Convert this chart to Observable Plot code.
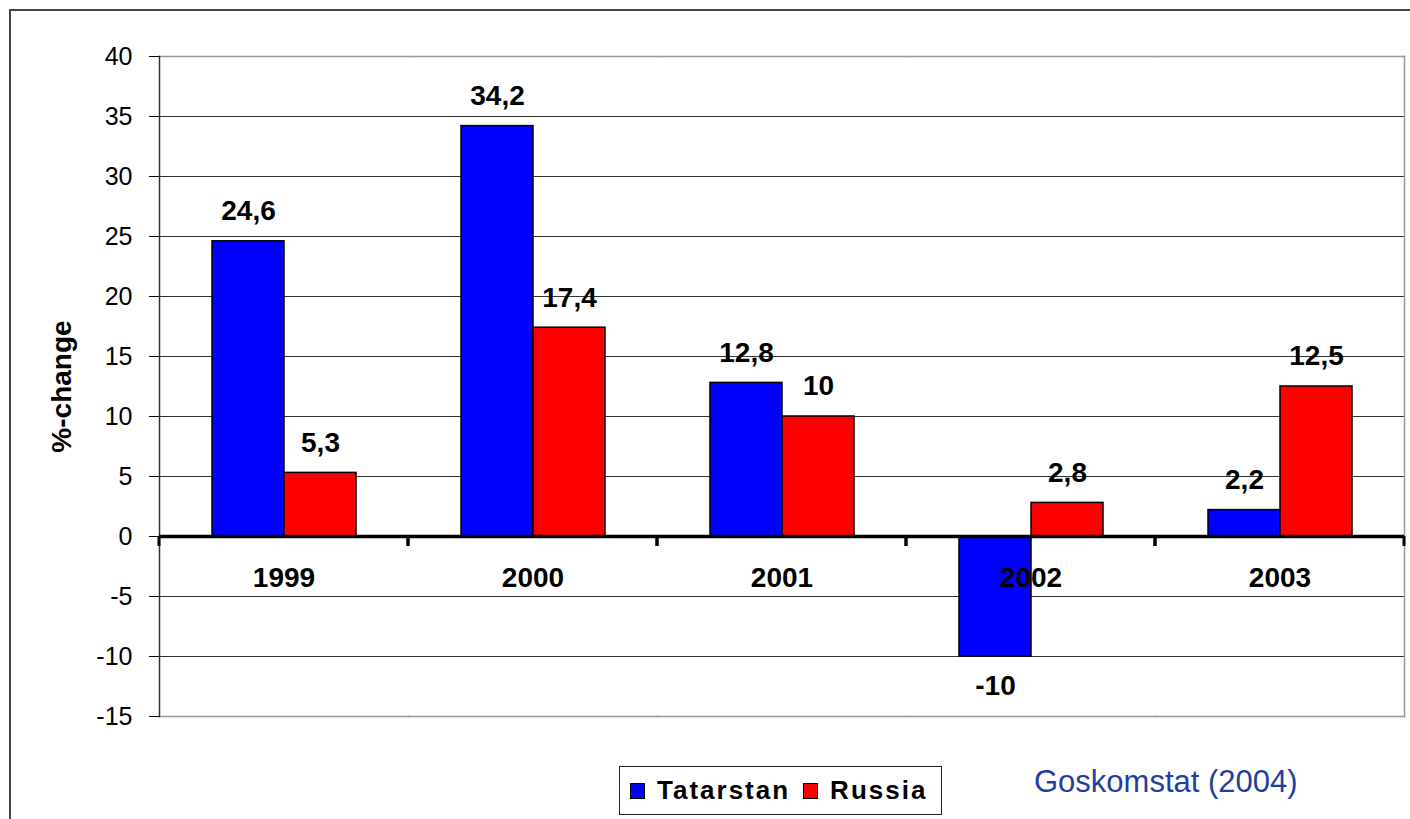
<!DOCTYPE html>
<html>
<head>
<meta charset="utf-8">
<script src="https://cdn.jsdelivr.net/npm/d3@7"></script>
<script src="https://cdn.jsdelivr.net/npm/@observablehq/plot@0.6"></script>
<style>
  html, body { margin: 0; padding: 0; background: #fff; }
  body { width: 1410px; height: 819px; position: relative; overflow: hidden; font-family: 'Liberation Sans', Arial, sans-serif; }
  #outer { position: absolute; left: 9px; top: 9px; width: 1410px; height: 820px; border-top: 2px solid #444; border-left: 2px solid #444; pointer-events: none; }
  #below { position: relative; width: 1410px; height: 59px; }
  #legend { position: absolute; left: 619px; top: 6px; width: 323px; height: 49px; box-sizing: border-box; border: 1px solid #222; display: flex; align-items: center; padding-left: 10px; }
  .sw { width: 15px; height: 16px; box-sizing: border-box; border: 1px solid #000; margin-right: 12px; }
  .lt { font-weight: bold; font-size: 26px; letter-spacing: 2px; color: #000; margin-right: 13px; }
  #caption { position: absolute; left: 1034px; top: 4px; line-height: 36px; font-size: 31px; color: #1f3f9f; }
</style>
</head>
<body>
<div id="chart"></div>
<div id="below">
  <div id="legend"></div>
  <div id="caption">Goskomstat (2004)</div>
</div>
<div id="outer"></div>
<script>
const years = ["1999", "2000", "2001", "2002", "2003"];
const series = ["Tatarstan", "Russia"];
const colors = ["#0000ff", "#ff0000"];
const tatarstan = [24.6, 34.2, 12.8, -10, 2.2];
const russia = [5.3, 17.4, 10, 2.8, 12.5];
const yTicks = [40, 35, 30, 25, 20, 15, 10, 5, 0, -5, -10, -15];
const gridTicks = [35, 30, 25, 20, 15, 10, 5, -5, -10];
const yLabel = "%-change";
const source = "Goskomstat (2004)";

const data = [];
years.forEach((y, i) => {
  data.push({year: y, series: series[0], value: tatarstan[i]});
  data.push({year: y, series: series[1], value: russia[i]});
});
const fmt = d => String(d.value).replace(".", ",");

const boundaryTicks = (index, scales, values, dims) => {
  const g = d3.create("svg:g");
  const r = scales.x && scales.x.range ? scales.x.range() : [dims.marginLeft, dims.width - dims.marginRight];
  const y0 = scales.y(0);
  for (const x of r) {
    g.append("line").attr("x1", x).attr("x2", x).attr("y1", y0).attr("y2", y0 + 10)
      .attr("stroke", "#000").attr("stroke-width", 3);
  }
  return g.node();
};

const chart = Plot.plot({
  width: 1410,
  height: 760,
  marginLeft: 157,
  marginRight: 4,
  marginTop: 56,
  marginBottom: 44,
  style: {fontFamily: "'Liberation Sans', Arial, sans-serif", fontSize: "25px", color: "#000", background: "#fff", overflow: "visible"},
  fx: {domain: years, padding: 0, axis: null},
  x: {domain: series, paddingInner: 0, paddingOuter: 0.72, axis: null},
  y: {domain: [-15, 40], axis: null},
  color: {domain: series, range: colors},
  marks: [
    Plot.gridY(gridTicks, {stroke: "#333", strokeOpacity: 1, strokeWidth: 1}),
    Plot.frame({anchor: "top", stroke: "#999", strokeWidth: 1.5}),
    Plot.frame({anchor: "bottom", stroke: "#999", strokeWidth: 1.5}),
    Plot.frame({anchor: "right", facetAnchor: "right", stroke: "#999", strokeWidth: 1.5}),
    Plot.frame({anchor: "left", facetAnchor: "left", stroke: "#333", strokeWidth: 1.5}),
    Plot.axisY({ticks: yTicks, tickSize: 10, tickPadding: 17, tickFormat: d => String(d), label: null, fontSize: 25}),
    Plot.barY(data, {fx: "year", x: "series", y: "value", fill: "series", stroke: "#000", strokeWidth: 1.5}),
    Plot.ruleY([0], {stroke: "#000", strokeWidth: 3.5}),
    boundaryTicks,
    Plot.text(data, {filter: d => d.value >= 0, fx: "year", x: "series", y: "value", text: fmt, dy: -30, fontSize: 28, fontWeight: "bold", fill: "#000"}),
    Plot.text(data, {filter: d => d.value < 0, fx: "year", x: "series", y: "value", text: fmt, dy: 30, fontSize: 28, fontWeight: "bold", fill: "#000"}),
    Plot.text(years, {fx: d => d, y: d => 0, text: d => d, dy: 42, fontSize: 28, fontWeight: "bold", fill: "#000"}),
    Plot.text([yLabel], {frameAnchor: "left", facetAnchor: "left", textAnchor: "middle", rotate: -90, dx: -97, fontSize: 28, fontWeight: "bold", fill: "#000"})
  ]
});
document.getElementById("chart").appendChild(chart);

const legend = document.getElementById("legend");
series.forEach((s, i) => {
  const sw = document.createElement("div");
  sw.className = "sw";
  sw.style.background = colors[i];
  const t = document.createElement("span");
  t.className = "lt";
  t.textContent = s;
  legend.appendChild(sw);
  legend.appendChild(t);
});
document.getElementById("caption").textContent = source;
</script>
</body>
</html>
